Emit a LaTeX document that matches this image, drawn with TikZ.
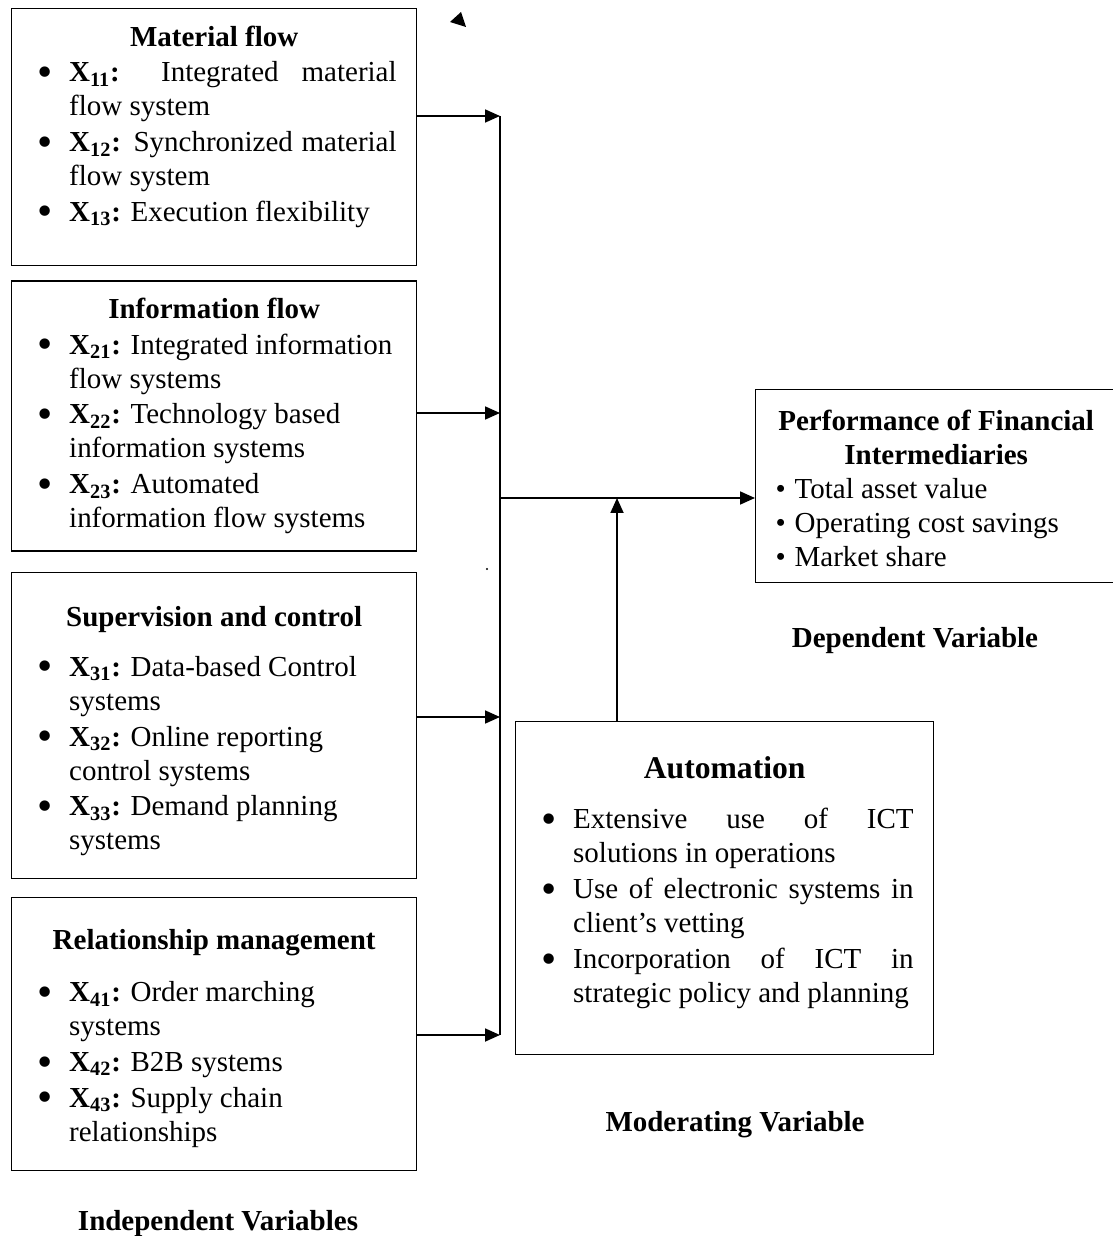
\documentclass[tikz,border=0pt]{standalone}
\usepackage{fontspec}
\setmainfont{Liberation Serif}
\usepackage{tikz}
\usetikzlibrary{positioning,arrows.meta}

\hyphenpenalty=10000
\exhyphenpenalty=10000

% bullet items
\newcommand{\bigbul}{\raisebox{-0.16em}{\scalebox{1.5}{\textbullet}}}
\newcommand{\itm}{\par\vspace{1pt}\noindent\hangindent=0.75cm\hangafter=1\makebox[0.75cm][l]{\hspace{0.12cm}\bigbul}}
\newcommand{\pitm}{\par\noindent\makebox[0.38cm][l]{\textbullet}}
\newcommand{\xv}[1]{\textbf{X\textsubscript{#1}:}}

\begin{document}
\begin{tikzpicture}[
    x=0.02cm,y=0.02cm,
    >={Triangle[length=0.3cm,width=0.26cm]},
    font=\fontsize{16.5}{19.35}\selectfont,
    varbox/.style={draw,line width=0.8pt,inner xsep=0.4cm,inner ysep=0pt},
    lbl/.style={font=\fontsize{16.5}{19.35}\selectfont\bfseries,inner sep=0pt,anchor=base},
    link/.style={->,line width=1pt}
]
    \useasboundingbox (0,0) rectangle (1112,-1236);

    % Independent variables
    \node[varbox,anchor=north west] (mat) at (11,-8) {\parbox[c][5.14cm][t]{7.3cm}{%
        \vspace*{0.34cm}{\centering\textbf{Material flow}\par}
        \itm \xv{11} Integrated material\linebreak flow system
        \itm \xv{12} Synchronized material\linebreak flow system
        \itm \xv{13} Execution flexibility\par}};
    \node[varbox,below=0.28cm of mat] (info) {\parbox[c][5.4cm][t]{7.3cm}{\raggedright
        \vspace*{0.34cm}{\centering\textbf{Information flow}\par}
        \itm \xv{21} Integrated information\newline flow systems
        \itm \xv{22} Technology based\newline information systems
        \itm \xv{23} Automated\newline information flow systems\par}};
    \node[varbox,below=0.4cm of info] (sup) {\parbox[c][6.12cm][t]{7.3cm}{\raggedright
        \vspace*{0.68cm}{\centering\textbf{Supervision and control}\par}\vspace{0.28cm}
        \itm \xv{31} Data-based Control\newline systems
        \itm \xv{32} Online reporting\newline control systems
        \itm \xv{33} Demand planning\newline systems\par}};
    \node[varbox,below=0.36cm of sup] (rel) {\parbox[c][5.46cm][t]{7.3cm}{\raggedright
        \vspace*{0.64cm}{\centering\textbf{Relationship management}\par}\vspace{0.32cm}
        \itm \xv{41} Order marching\newline systems
        \itm \xv{42} B2B systems
        \itm \xv{43} Supply chain\newline relationships\par}};

    % Dependent and moderating variables
    \node[varbox,anchor=north west] (perf) at (755,-389) {\parbox[c][3.86cm][t]{6.42cm}{%
        \vspace*{0.4cm}{\centering\bfseries Performance of Financial\\Intermediaries\par}
        \pitm Total asset value
        \pitm Operating cost savings
        \pitm Market share\par}};
    \node[varbox,anchor=north west] (auto) at (515,-721) {\parbox[c][6.66cm][t]{7.56cm}{%
        \vspace*{0.69cm}{\centering\fontsize{18}{22}\selectfont\textbf{Automation}\par}\vspace{0.3cm}
        \itm Extensive use of ICT\linebreak solutions in operations
        \itm Use of electronic systems in\linebreak client’s vetting
        \itm Incorporation of ICT in\linebreak strategic policy and planning\par}};

    % Captions
    \node[lbl] (depvar) at (915,-647) {Dependent Variable};
    \node[lbl] (modvar) at (735,-1131) {Moderating Variable};
    \node[lbl] (indvar) at (218,-1230) {Independent Variables};

    % Bus
    \coordinate (b1) at (500,-116);
    \coordinate (b2) at (500,-413);
    \coordinate (b3) at (500,-717);
    \coordinate (b4) at (500,-1035);
    \coordinate (hub) at (500,-498);
    \coordinate (tee) at (617,-498);
    \draw[line width=0.8pt] (b1) -- (b4);

    % Connectors
    \draw[link] (mat.east |- b1) -- (b1);
    \draw[link] (info.east |- b2) -- (b2);
    \draw[link] (sup.east |- b3) -- (b3);
    \draw[link] (rel.east |- b4) -- (b4);
    \draw[link] (hub) -- (hub -| perf.west);
    \draw[link] (tee |- auto.north) -- (tee);

    % Loose marks
    \fill (450,-22) -- (461,-12) -- (466,-27) -- cycle;
    \fill (487,-569) circle (0.6pt);
\end{tikzpicture}
\end{document}
